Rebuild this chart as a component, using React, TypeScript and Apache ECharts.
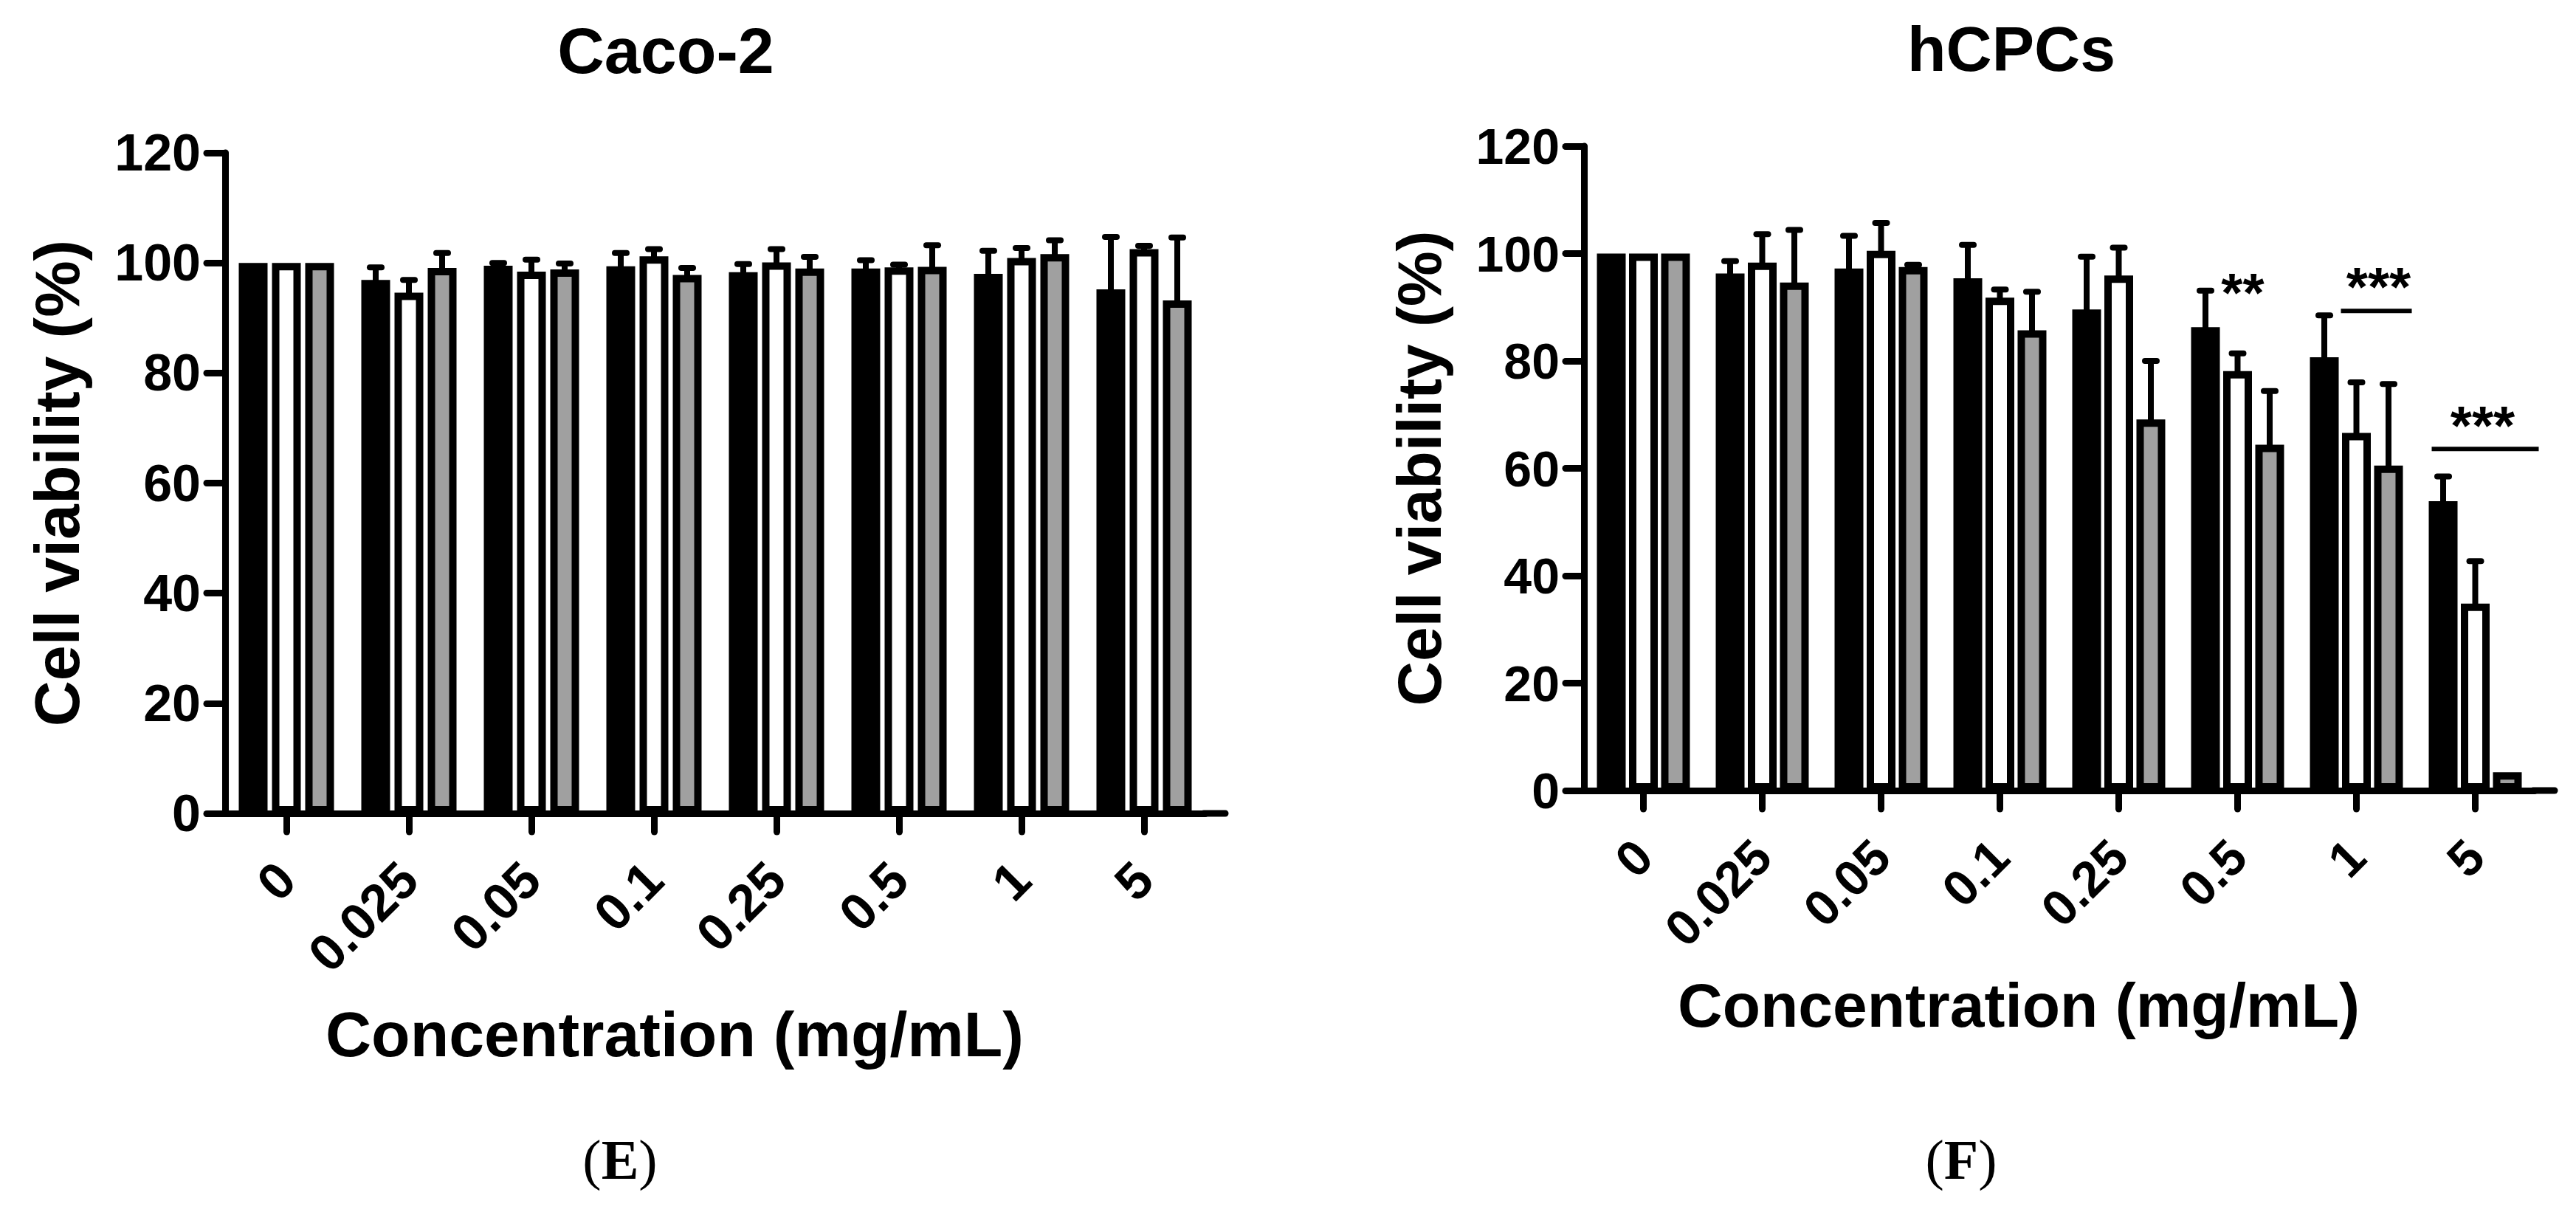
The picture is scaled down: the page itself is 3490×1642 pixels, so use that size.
import React, { useEffect, useRef } from 'react';
import * as echarts from 'echarts';

// ---------- data ----------
const categories = ['0', '0.025', '0.05', '0.1', '0.25', '0.5', '1', '5'];

// Caco-2 (E)
const caco2Black = [100, 96.9, 99.5, 99.4, 98.3, 99.0, 98.0, 95.2];
const caco2White = [100, 94.6, 98.4, 101.2, 100.1, 99.2, 100.9, 102.5];
const caco2Gray = [100, 99.1, 98.8, 97.8, 99.0, 99.3, 101.6, 93.2];
const caco2BlackErr = [0, 2.3, 0.5, 2.4, 1.5, 1.5, 4.2, 9.5];
const caco2WhiteErr = [0, 2.3, 2.2, 1.3, 2.4, 0.5, 1.8, 0.6];
const caco2GrayErr = [0, 2.7, 1.1, 1.3, 2.1, 3.9, 2.5, 11.4];

// hCPCs (F)
const hcpcBlack = [100, 96.3, 97.2, 95.4, 89.6, 86.3, 80.7, 53.9];
const hcpcWhite = [100, 98.3, 100.5, 91.8, 95.9, 78.1, 66.6, 34.8];
const hcpcGray = [100, 94.6, 97.5, 85.7, 69.1, 64.4, 60.5, 3.4];
const hcpcBlackErr = [0, 2.3, 6.1, 6.2, 9.8, 6.8, 7.8, 4.6];
const hcpcWhiteErr = [0, 5.3, 5.2, 1.5, 5.2, 3.3, 9.4, 7.9];
const hcpcGrayErr = [0, 9.8, 0.4, 7.2, 10.9, 10.0, 15.2, 0];

// significance marks (hCPCs)
const sigCategoryIndex = [5, 6, 7];
const sigText = ['**', '***', '***'];
const sigTextValue = [94.9, 95.9, 70.1];
const sigLineValue = [0, 89.3, 63.6];
const sigHasLine = [false, true, true];

const yTickMin = 0;
const yTickMax = 120;
const yTickInterval = 20;

// ---------- styles ----------
const SANS = '"Liberation Sans", Arial, Helvetica, sans-serif';
const SERIF = '"Liberation Serif", "Times New Roman", serif';
const BAR_W = 39;
const BORDER = 10;
const AXIS_W = 9;
const GRAY = '#a0a0a0';

// pixel offsets of significance marks relative to category centre
const sigTextDx = [7, 30, 10];
const sigLineDx = [[0, 0], [-21, 75], [-59, 86]];

type Panel = {
  left: number; top: number; catW: number; height: number;
  tickFont: number; nameFont: number; yNameGap: number; xNameGap: number;
  gapRatio: number; values: number[][]; errs: number[][];
};

const panels: Panel[] = [
  {
    left: 305, top: 207, catW: 166, height: 895, tickFont: 70, nameFont: 86,
    yNameGap: 185, xNameGap: 256, gapRatio: 0.154,
    values: [caco2Black, caco2White, caco2Gray],
    errs: [caco2BlackErr, caco2WhiteErr, caco2GrayErr],
  },
  {
    left: 2146, top: 198, catW: 161, height: 873, tickFont: 68, nameFont: 84,
    yNameGap: 181, xNameGap: 249, gapRatio: 0.115,
    values: [hcpcBlack, hcpcWhite, hcpcGray],
    errs: [hcpcBlackErr, hcpcWhiteErr, hcpcGrayErr],
  },
];

const fills = ['#000000', '#ffffff', GRAY];
const seriesNames = ['Sample A', 'Sample B', 'Sample C'];

function buildOption() {
  const grid: any[] = [];
  const xAxis: any[] = [];
  const yAxis: any[] = [];
  const series: any[] = [];
  const graphic: any[] = [];

  panels.forEach((p, gi) => {
    const width = p.catW * categories.length;
    grid.push({ left: p.left, top: p.top, width, height: p.height, containLabel: false, outerBoundsMode: 'none' });
    const lineStyle = { color: '#000', width: AXIS_W, cap: 'round' };
    xAxis.push({
      type: 'category', gridIndex: gi, data: categories,
      axisLine: { show: true, lineStyle },
      axisTick: { show: true, alignWithLabel: true, length: 25, lineStyle },
      axisLabel: {
        interval: 0, rotate: 45, margin: 78, fontSize: p.tickFont, fontWeight: 'bold',
        fontFamily: SANS, color: '#000',
      },
      splitLine: { show: false },
      name: 'Concentration (mg/mL)', nameLocation: 'middle', nameGap: p.xNameGap,
      nameTextStyle: {
        fontSize: p.nameFont, fontWeight: 'bold', fontFamily: SANS, color: '#000',
        padding: [0, 110, 0, 0],
      },
    });
    yAxis.push({
      type: 'value', gridIndex: gi, min: yTickMin, max: yTickMax, interval: yTickInterval,
      axisLine: { show: true, lineStyle },
      axisTick: { show: true, length: 25, lineStyle },
      axisLabel: { margin: 33, fontSize: p.tickFont, fontWeight: 'bold', fontFamily: SANS, color: '#000' },
      splitLine: { show: false },
      name: 'Cell viability (%)', nameLocation: 'middle', nameRotate: 90, nameGap: p.yNameGap,
      nameTextStyle: { fontSize: p.nameFont, fontWeight: 'bold', fontFamily: SANS, color: '#000' },
    });

    p.values.forEach((vals, si) => {
      series.push({
        type: 'bar', name: seriesNames[si], xAxisIndex: gi, yAxisIndex: gi,
        data: vals, barWidth: BAR_W, barGap: `${(p.gapRatio * 100).toFixed(1)}%`,
        itemStyle: { color: fills[si], borderColor: '#000', borderWidth: BORDER },
        emphasis: { disabled: true }, z: 2,
      });
    });

    const spacing = BAR_W * (1 + p.gapRatio);
    const errData: number[][] = [];
    p.values.forEach((vals, si) => {
      vals.forEach((v, ci) => {
        const e = p.errs[si][ci];
        if (e > 0) errData.push([ci, si, v, e]);
      });
    });
    series.push({
      type: 'custom', name: 'SD', xAxisIndex: gi, yAxisIndex: gi, z: 4,
      encode: { x: 0, y: 2 }, data: errData, silent: true,
      renderItem: (_params: any, api: any) => {
        const ci = api.value(0), si = api.value(1), v = api.value(2), e = api.value(3);
        const base = api.coord([ci, v]);
        const top = api.coord([ci, v + e]);
        const x = base[0] + (si - 1) * spacing;
        return {
          type: 'group',
          children: [
            { type: 'line', shape: { x1: x, y1: base[1] + 4, x2: x, y2: top[1] }, style: { stroke: '#000', lineWidth: 8 } },
            { type: 'line', shape: { x1: x - 8, y1: top[1], x2: x + 8, y2: top[1] }, style: { stroke: '#000', lineWidth: 8, lineCap: 'round' } },
          ],
        };
      },
    });

    // small axis extension beyond last category (as in the original)
    const axisY = p.top + p.height;
    graphic.push({
      type: 'line', shape: { x1: p.left + width - 2, y1: axisY, x2: p.left + width + 27, y2: axisY },
      style: { stroke: '#000', lineWidth: AXIS_W, lineCap: 'round' }, silent: true,
    });
  });

  // significance marks on hCPCs panel
  const sigData = sigCategoryIndex.map((c, i) => [c, sigTextValue[i], i]);
  series.push({
    type: 'custom', name: 'significance', xAxisIndex: 1, yAxisIndex: 1, z: 5,
    encode: { x: 0, y: 1 }, data: sigData, silent: true,
    renderItem: (_params: any, api: any) => {
      const ci = api.value(0), tv = api.value(1), idx = api.value(2);
      const tp = api.coord([ci, tv]);
      const children: any[] = [
        {
          type: 'text', x: tp[0] + sigTextDx[idx], y: tp[1] + 15,
          style: {
            text: sigText[idx], fontSize: 75, fontWeight: 'bold', fontFamily: SANS, fill: '#000',
            textAlign: 'center', textVerticalAlign: 'middle', align: 'center', verticalAlign: 'middle',
          },
        },
      ];
      if (sigHasLine[idx]) {
        const lp = api.coord([ci, sigLineValue[idx]]);
        children.push({
          type: 'line',
          shape: { x1: lp[0] + sigLineDx[idx][0], y1: lp[1], x2: lp[0] + sigLineDx[idx][1], y2: lp[1] },
          style: { stroke: '#000', lineWidth: 6 },
        });
      }
      return { type: 'group', children };
    },
  });

  const textStyle = (text: string, size: number, family: string) => ({
    text, fontSize: size, fontWeight: 'bold', fontFamily: family, fill: '#000',
    textAlign: 'center', textVerticalAlign: 'middle', align: 'center', verticalAlign: 'middle',
  });
  graphic.push({ type: 'text', x: 902, y: 68, style: textStyle('Caco-2', 88, SANS) });
  graphic.push({ type: 'text', x: 2725, y: 66, style: textStyle('hCPCs', 86, SANS) });
  const panelLabel = (letter: string, x: number) => ({
    type: 'text', x, y: 1571,
    style: {
      text: `{p|(}{b|${letter}}{p|)}`, fill: '#000',
      textAlign: 'center', textVerticalAlign: 'middle', align: 'center', verticalAlign: 'middle',
      rich: {
        p: { fontSize: 76, fontFamily: SERIF, fontWeight: 'normal', fill: '#000' },
        b: { fontSize: 76, fontFamily: SERIF, fontWeight: 'bold', fill: '#000' },
      },
    },
  });
  graphic.push(panelLabel('E', 840));
  graphic.push(panelLabel('F', 2657));

  return {
    animation: false,
    backgroundColor: '#ffffff',
    grid, xAxis, yAxis, series, graphic,
  };
}

export default function App() {
  const ref = useRef<HTMLDivElement>(null);
  useEffect(() => {
    if (!ref.current) return;
    const chart = echarts.init(ref.current, undefined, { renderer: 'svg' });
    chart.setOption(buildOption() as any);
    return () => chart.dispose();
  }, []);
  return (
    <div
      ref={ref}
      style={{ position: 'absolute', left: 0, top: 0, width: 3490, height: 1642, background: '#fff' }}
    />
  );
}
